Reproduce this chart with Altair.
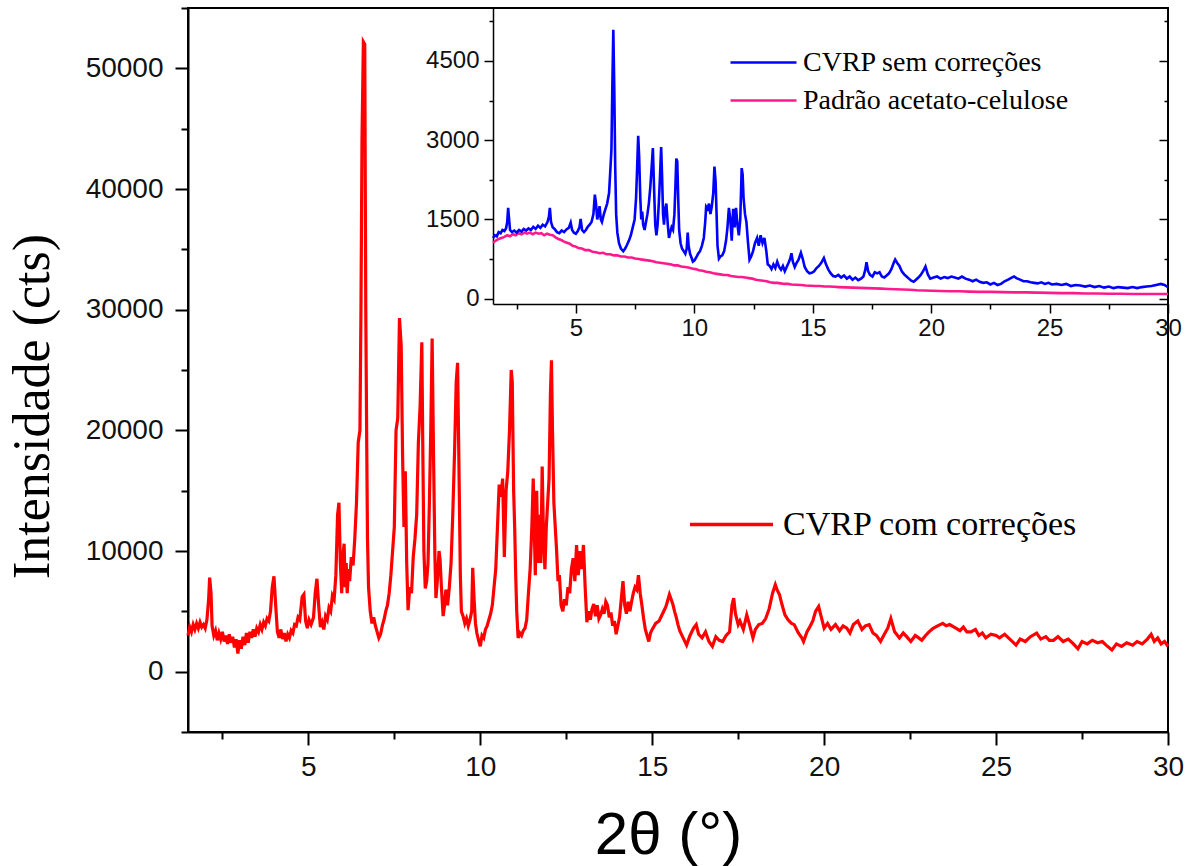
import altair as alt
import pandas as pd

# ---------------- data ----------------
red_x = [1.50,1.55,1.60,1.65,1.70,1.75,1.80,1.85,1.90,1.95,2.00,2.05,2.10,2.13,2.17,2.20,2.25,2.30,2.35,2.40,
         2.45,2.50,2.55,2.60,2.65,2.70,2.75,2.80,2.85,2.90,2.95,3.00,3.05,3.10,3.15,3.20,3.25,3.30,3.35,3.40,
         3.45,3.50,3.55,3.60,3.65,3.70,3.75,3.80,3.85,3.90,3.95,4.00,4.05,4.10,4.15,4.20,4.25,4.30,4.35,4.40,
         4.45,4.50,4.55,4.60,4.65,4.70,4.75,4.82,4.87,4.92,4.97,5.02,5.08,5.15,5.20,5.25,5.30,5.35,5.40,5.45,
         5.50,5.55,5.60,5.65,5.70,5.75,5.80,5.85,5.89,5.93,5.97,6.00,6.04,6.07,6.10,6.13,6.17,6.20,6.25,6.30,
         6.35,6.40,6.45,6.50,6.53,6.56,6.60,6.64,6.67,6.70,6.72,6.75,6.80,6.85,6.90,6.95,7.00,7.05,7.10,7.15,
         7.20,7.25,7.30,7.35,7.40,7.45,7.50,7.55,7.60,7.65,7.70,7.74,7.78,7.82,7.86,7.90,7.95,8.00,8.05,8.10,
         8.15,8.20,8.25,8.30,8.33,8.36,8.40,8.44,8.48,8.52,8.56,8.60,8.64,8.68,8.71,8.75,8.80,8.83,8.87,8.92,
         8.96,9.00,9.05,9.10,9.15,9.20,9.25,9.30,9.34,9.38,9.42,9.45,9.50,9.55,9.60,9.65,9.70,9.75,9.78,9.82,
         9.86,9.90,9.95,10.00,10.05,10.10,10.15,10.20,10.25,10.30,10.35,10.40,10.45,10.50,10.55,10.60,10.65,10.70,10.75,10.80,
         10.85,10.90,10.93,10.97,11.00,11.03,11.06,11.10,11.15,11.20,11.25,11.30,11.35,11.40,11.45,11.50,11.54,11.57,11.60,11.64,
         11.68,11.72,11.76,11.80,11.84,11.88,11.92,11.96,12.00,12.04,12.07,12.10,12.14,12.18,12.22,12.26,12.30,12.35,12.40,12.45,
         12.50,12.55,12.60,12.65,12.70,12.75,12.80,12.85,12.90,12.95,13.00,13.05,13.10,13.15,13.20,13.25,13.30,13.35,13.40,13.45,
         13.50,13.55,13.60,13.65,13.70,13.75,13.80,13.85,13.90,13.95,14.00,14.05,14.10,14.15,14.20,14.25,14.30,14.35,14.40,14.45,
         14.50,14.55,14.60,14.65,14.70,14.75,14.80,14.85,14.90,14.95,15.00,15.10,15.20,15.30,15.40,15.50,15.55,15.60,15.65,15.70,
         15.75,15.80,15.90,16.00,16.10,16.20,16.28,16.35,16.45,16.55,16.65,16.75,16.85,16.95,17.05,17.15,17.25,17.32,17.37,17.42,
         17.50,17.55,17.65,17.75,17.82,17.93,18.00,18.10,18.20,18.30,18.40,18.50,18.58,18.63,18.70,18.78,18.86,18.95,19.05,19.13,
         19.25,19.35,19.40,19.50,19.60,19.67,19.75,19.84,19.92,20.00,20.10,20.20,20.33,20.45,20.55,20.66,20.75,20.85,20.98,21.10,
         21.20,21.31,21.42,21.52,21.64,21.75,21.85,21.94,22.05,22.19,22.30,22.40,22.52,22.65,22.75,22.84,22.95,23.05,23.17,23.30,
         23.45,23.55,23.65,23.83,23.95,24.05,24.15,24.27,24.40,24.50,24.60,24.70,24.85,25.00,25.10,25.25,25.40,25.58,25.70,25.85,
         26.00,26.18,26.30,26.45,26.55,26.67,26.80,26.95,27.10,27.25,27.38,27.50,27.65,27.80,27.95,28.09,28.20,28.37,28.50,28.65,
         28.80,28.97,29.10,29.25,29.40,29.51,29.60,29.70,29.80,29.90,30.00]
red_y = [3000,3700,3300,3900,3500,4000,3600,4100,3700,3900,3600,4300,6000,7800,6500,3800,3000,3400,2600,3200,
         2700,3300,2500,3000,2300,3100,2400,2900,2000,2700,1500,2600,1900,2900,2200,3200,2400,3300,2800,3500,
         2900,3600,3300,3900,3500,4100,3800,4400,4200,5000,7000,7900,5500,3300,2800,3500,2700,3200,2500,3100,
         2800,3400,3200,3900,3800,4500,4300,6200,6400,4200,3600,4300,3900,4500,6500,7700,5500,3700,4100,3500,
         4600,4300,5300,5000,6300,6000,8000,13000,14000,9000,6500,9500,10600,7000,9000,6500,8500,7500,9500,8800,
         11000,14000,19000,20000,30000,44000,52200,52000,30000,18000,11000,7000,5000,4000,4500,3800,3300,2800,3100,3800,
         4300,5000,5500,6500,8000,10000,12000,20000,21000,29300,27000,18000,12000,16600,9000,5100,7000,6500,9500,11000,
         13000,19000,22000,27300,18000,10000,6900,7500,9000,14000,20000,27600,18000,9600,6100,7500,10000,9300,7000,4600,
         5500,6800,5500,7000,9000,13000,18000,24000,25600,17000,8000,5000,4600,4000,4400,3800,4300,5000,8600,6000,
         4000,3200,2600,2100,3000,2800,3500,3800,4300,4800,5500,7000,8500,12000,15500,14500,16000,9500,15000,16600,
         20000,25000,24000,15000,12000,8000,5000,2800,3200,3000,3400,3600,4300,6500,8500,12000,16000,12000,8000,15000,
         9000,13000,9000,17000,11000,8500,12000,14000,16000,23000,25800,20000,14000,12000,10000,7500,8000,5500,5000,6000,
         5500,7000,6500,8500,9400,7500,10500,8000,10000,8500,10500,7000,4100,5000,4300,5200,5600,4600,5500,4400,
         4700,5200,4800,5800,5500,4500,4900,3800,4200,3100,3800,4500,6000,7500,5500,4800,5800,5000,5800,6500,
         7000,6800,8000,6500,5500,4400,3500,3000,2500,3200,3500,4000,4200,4800,5400,6400,6000,5600,5000,4500,
         3900,3400,2800,2200,3000,3600,3900,3100,2800,3300,2500,2100,2900,2600,2500,3000,3300,5500,6100,4800,
         3900,4200,3500,4700,4000,2800,3500,3900,4000,4400,5200,6500,7200,6800,6400,5500,4700,4300,4000,3900,
         3200,2800,2500,3300,3800,4200,5000,5400,4500,3600,4000,3500,3900,3400,3800,3600,3200,3900,4200,3500,
         3800,3900,3200,3000,2500,3100,3600,4400,3300,2800,3200,2900,2500,3000,2800,2600,3000,3300,3600,3800,
         4000,3800,3900,3600,3400,3700,3300,3300,3500,3000,3200,2800,3100,3000,2800,3100,2700,2200,2700,2500,
         2900,3200,2700,2900,2600,2600,2900,2500,2700,2300,1900,2500,2300,2600,2400,2500,2200,1800,2300,2100,
         2400,2200,2500,2300,2700,3100,2500,2800,2300,2500,2100]

blue_x = [1.50,1.58,1.66,1.74,1.82,1.90,1.98,2.05,2.10,2.14,2.18,2.22,2.30,2.40,2.50,2.60,2.70,2.80,2.90,3.00,
          3.10,3.20,3.30,3.40,3.50,3.60,3.70,3.80,3.86,3.90,3.95,4.02,4.10,4.20,4.30,4.40,4.50,4.60,4.70,4.78,
          4.84,4.92,5.00,5.08,5.15,5.20,5.26,5.34,5.42,5.50,5.58,5.66,5.74,5.80,5.85,5.90,5.95,6.00,6.05,6.10,
          6.18,6.25,6.32,6.40,6.45,6.50,6.54,6.58,6.62,6.66,6.70,6.75,6.82,6.90,7.00,7.08,7.16,7.24,7.32,7.40,
          7.48,7.54,7.58,7.63,7.67,7.72,7.76,7.80,7.84,7.90,7.96,8.02,8.08,8.14,8.20,8.25,8.30,8.35,8.40,8.45,
          8.50,8.55,8.60,8.64,8.68,8.72,8.77,8.82,8.88,8.93,8.98,9.04,9.10,9.16,9.20,9.24,9.28,9.32,9.36,9.42,
          9.48,9.55,9.62,9.68,9.72,9.76,9.82,9.88,9.94,10.00,10.08,10.16,10.24,10.32,10.40,10.46,10.50,10.56,10.62,10.68,
          10.74,10.80,10.85,10.90,10.94,10.98,11.04,11.10,11.18,11.26,11.34,11.40,11.46,11.52,11.58,11.64,11.70,11.76,11.82,11.88,
          11.94,12.00,12.04,12.08,12.14,12.20,12.26,12.33,12.40,12.48,12.56,12.65,12.72,12.80,12.88,12.96,13.04,13.10,13.18,13.26,
          13.34,13.42,13.50,13.58,13.66,13.74,13.82,13.90,13.98,14.05,14.10,14.16,14.24,14.32,14.40,14.50,14.58,14.66,14.76,14.86,
          14.96,15.06,15.16,15.26,15.36,15.47,15.56,15.66,15.76,15.86,15.96,16.08,16.20,16.32,16.44,16.56,16.68,16.80,16.92,17.04,
          17.14,17.22,17.27,17.34,17.42,17.52,17.62,17.72,17.82,17.92,18.02,18.12,18.22,18.32,18.42,18.48,18.56,18.66,18.76,18.86,
          18.96,19.06,19.16,19.26,19.36,19.46,19.56,19.66,19.76,19.86,19.96,20.10,20.25,20.40,20.55,20.70,20.85,21.00,21.15,21.30,
          21.45,21.60,21.75,21.90,22.05,22.20,22.35,22.50,22.65,22.80,22.95,23.10,23.25,23.40,23.50,23.60,23.75,23.90,24.05,24.20,
          24.35,24.50,24.65,24.80,24.95,25.10,25.30,25.50,25.70,25.90,26.10,26.30,26.50,26.70,26.90,27.10,27.30,27.50,27.70,27.90,
          28.10,28.30,28.50,28.70,28.90,29.10,29.30,29.50,29.70,29.85,30.00]
blue_y = [1150,1200,1180,1260,1240,1300,1280,1330,1450,1720,1500,1300,1260,1290,1250,1300,1270,1320,1290,1330,
          1300,1360,1320,1380,1340,1400,1370,1450,1550,1720,1450,1350,1320,1260,1240,1290,1260,1310,1340,1440,
          1300,1250,1230,1280,1350,1510,1300,1260,1300,1360,1400,1450,1600,1970,1800,1500,1600,1750,1500,1450,
          1600,1700,1800,2000,2400,2820,4050,5090,4000,2500,1600,1250,1050,950,900,950,1020,1100,1200,1350,
          1500,1900,2400,3080,2700,1900,1500,1650,1400,1300,1450,1600,1800,2100,2500,2850,2100,1400,1200,1400,
          1800,2300,2870,2300,1600,1400,1700,1800,1400,1150,1250,1350,1300,1600,2100,2650,2600,1900,1300,1050,
          950,900,850,950,1250,1000,850,780,700,720,780,850,900,1000,1150,1450,1740,1700,1800,1600,
          1750,2000,2500,2200,1600,1000,760,800,820,900,1100,1350,1720,1500,1100,1700,1350,1720,1400,1200,
          1500,2470,2350,1900,1600,1450,1100,740,800,900,1050,1150,1000,1200,1050,1150,900,650,620,560,
          650,580,700,600,550,620,520,600,680,760,860,700,600,680,740,870,750,600,520,480,
          490,520,580,620,680,770,650,550,480,430,420,450,400,440,380,420,360,400,350,380,
          420,550,690,520,450,420,500,480,500,420,400,440,480,560,680,740,680,620,520,460,
          420,380,340,320,360,400,450,520,610,460,380,400,420,380,410,390,420,400,380,420,
          380,360,330,360,320,300,310,270,300,260,280,330,360,400,420,390,360,330,330,310,
          300,290,310,280,300,270,280,260,280,240,260,250,230,250,220,240,210,230,200,220,
          210,200,220,200,220,230,240,260,280,260,220]

pink_x = [1.50,1.62,1.74,1.86,1.98,2.10,2.22,2.34,2.46,2.58,2.70,2.82,2.94,3.06,3.18,3.30,3.42,3.54,3.66,3.78,
          3.90,4.02,4.14,4.26,4.38,4.50,4.62,4.74,4.86,4.98,5.10,5.25,5.40,5.55,5.70,5.85,6.00,6.15,6.30,6.45,
          6.60,6.75,6.90,7.05,7.20,7.35,7.50,7.65,7.80,7.95,8.10,8.25,8.40,8.55,8.70,8.85,9.00,9.15,9.30,9.45,
          9.60,9.75,9.90,10.05,10.20,10.35,10.50,10.65,10.80,10.95,11.10,11.25,11.40,11.55,11.70,11.85,12.00,12.15,12.30,12.45,
          12.60,12.75,12.90,13.05,13.20,13.35,13.50,13.65,13.80,13.95,14.10,14.30,14.50,14.70,14.90,15.10,15.30,15.50,15.70,15.90,
          16.10,16.40,16.70,17.00,17.30,17.60,17.90,18.20,18.50,18.80,19.10,19.40,19.70,20.00,20.40,20.80,21.20,21.60,22.00,22.50,
          23.00,23.50,24.00,24.50,25.00,25.50,26.00,26.50,27.00,27.50,28.00,28.50,29.00,29.50,30.00]
pink_y = [1060,1100,1130,1150,1170,1200,1180,1220,1200,1240,1220,1250,1230,1250,1220,1250,1230,1240,1200,1230,
          1210,1200,1160,1130,1110,1080,1060,1040,1000,990,960,950,920,920,890,880,860,870,840,840,
          820,820,800,800,780,780,760,750,740,730,720,710,690,680,670,660,650,630,630,610,
          600,590,570,560,540,530,510,500,480,470,460,450,450,430,420,410,410,400,390,380,
          360,350,340,330,310,300,300,290,280,280,270,265,260,250,245,240,240,230,230,225,
          220,215,210,205,200,195,190,185,180,175,170,160,155,150,145,140,140,135,130,130,
          125,120,120,115,110,105,105,100,100,95,95,90,90,90,88]

main_name = "CVRP com correções"
blue_name = "CVRP sem correções"
pink_name = "Padrão acetato-celulose"

main_ticks_x = [5, 10, 15, 20, 25, 30]
main_minor_x = [2.5, 7.5, 12.5, 17.5, 22.5, 27.5]
main_ticks_y = [0, 10000, 20000, 30000, 40000, 50000]
main_minor_y = [-5000, 5000, 15000, 25000, 35000, 45000, 55000]
inset_ticks_y = [0, 1500, 3000, 4500]
inset_minor_y = [750, 2250, 3750, 5250]

# ---------------- tables ----------------
main_df = pd.DataFrame({"x": red_x, "y": red_y, "s": main_name})
blue_df = pd.DataFrame({"x": blue_x, "y": blue_y, "s": blue_name})
pink_df = pd.DataFrame({"x": pink_x, "y": pink_y, "s": pink_name})

W, H = 980, 724
SANS = "Liberation Sans"
SERIF = "Liberation Serif"

mx = alt.Scale(domain=[1.5, 30], nice=False, zero=False)
my = alt.Scale(domain=[-5000, 55000], nice=False, zero=False)
ix = alt.Scale(domain=[1.5, 30], range=[305, 980], nice=False, zero=False)
iy = alt.Scale(domain=[-100, 5500], range=[296, 0], nice=False, zero=False)

base_ax = dict(grid=False, domainColor="black", tickColor="black", labelColor="#111",
               labelFont=SANS, labelOverlap=False, labelFlush=False)


def legend(x, y, size, width, fsize, offset):
    return alt.Legend(title=None, orient="none", legendX=x, legendY=y,
                      symbolType="stroke", symbolSize=size, symbolStrokeWidth=width,
                      labelFont=SERIF, labelFontSize=fsize, labelLimit=700,
                      labelOffset=offset, labelColor="black", padding=0)


# main curve with major axes
red = alt.Chart(main_df).mark_line(strokeWidth=3.2).encode(
    x=alt.X("x:Q", scale=mx, axis=alt.Axis(
        orient="bottom", values=main_ticks_x, tickSize=13, tickWidth=2, domainWidth=2,
        labelFontSize=28, labelPadding=8,
        title="2θ (°)", titleFont=SANS, titleFontSize=60, titleFontWeight="normal", titleColor="black",
        titleX=480, titleY=121, titleAlign="center", titleBaseline="alphabetic", **base_ax)),
    y=alt.Y("y:Q", scale=my, axis=alt.Axis(
        orient="left", values=main_ticks_y, format="d", tickSize=13, tickWidth=2, domainWidth=2,
        labelFontSize=28, labelPadding=12,
        title="Intensidade (cts)", titleFont=SERIF, titleFontSize=52, titleFontWeight="normal",
        titleColor="black", titleX=-140, titleY=398, titleAlign="center", titleBaseline="alphabetic",
        **base_ax)),
    color=alt.Color("s:N", scale=alt.Scale(domain=[main_name], range=["#ff0000"]),
                    legend=legend(500, 473, 6889, 3.5, 34, 8)),
)

# main minor ticks
red_minor = alt.Chart(main_df).mark_line(strokeOpacity=0).encode(
    x=alt.X("x:Q", scale=mx, axis=alt.Axis(orient="bottom", values=main_minor_x, tickSize=7,
                                           tickWidth=2, labels=False, domain=False, title=None, **base_ax)),
    y=alt.Y("y:Q", scale=my, axis=alt.Axis(orient="left", values=main_minor_y, tickSize=7,
                                           tickWidth=2, labels=False, domain=False, title=None, **base_ax)),
)

# inset curves (with inset axes on the blue layer)
blue = alt.Chart(blue_df).mark_line(strokeWidth=2.6).encode(
    x=alt.X("x:Q", scale=ix, axis=alt.Axis(orient="bottom", offset=-428, values=main_ticks_x,
                                           tickSize=9, tickWidth=1.5, domainWidth=1.5,
                                           labelFontSize=24, labelPadding=3, title=None, **base_ax)),
    y=alt.Y("y:Q", scale=iy, axis=alt.Axis(orient="left", offset=-305, values=inset_ticks_y, format="d",
                                           tickSize=9, tickWidth=1.5, domainWidth=1.5,
                                           labelFontSize=24, labelPadding=5, title=None, **base_ax)),
    color=alt.Color("s:N", scale=alt.Scale(domain=[blue_name], range=["#0000ff"]),
                    legend=legend(541, 20, 4356, 2.5, 28, 5)),
)

pink = alt.Chart(pink_df).mark_line(strokeWidth=2.6).encode(
    x=alt.X("x:Q", scale=ix, axis=None),
    y=alt.Y("y:Q", scale=iy, axis=None),
    color=alt.Color("s:N", scale=alt.Scale(domain=[pink_name], range=["#ff1a8c"]),
                    legend=legend(541, 58, 4356, 2.5, 28, 5)),
)

# inset minor ticks
inset_minor = alt.Chart(pink_df).mark_line(strokeOpacity=0).encode(
    x=alt.X("x:Q", scale=ix, axis=alt.Axis(orient="bottom", offset=-428, values=main_minor_x,
                                           tickSize=5, tickWidth=1.5, labels=False, domain=False,
                                           title=None, **base_ax)),
    y=alt.Y("y:Q", scale=iy, axis=alt.Axis(orient="left", offset=-305, values=inset_minor_y,
                                           tickSize=4, tickWidth=1.5, labels=False, domain=False,
                                           title=None, **base_ax)),
)

# inset right-side inward ticks
inset_right = alt.Chart(pink_df).mark_line(strokeOpacity=0).encode(
    x=alt.X("x:Q", scale=ix, axis=None),
    y=alt.Y("y:Q", scale=iy, axis=alt.Axis(orient="left", offset=-980, values=inset_ticks_y,
                                           tickSize=9, tickWidth=1.5, labels=False, domain=False,
                                           title=None, **base_ax)),
)
inset_right_minor = alt.Chart(pink_df).mark_line(strokeOpacity=0).encode(
    x=alt.X("x:Q", scale=ix, axis=None),
    y=alt.Y("y:Q", scale=iy, axis=alt.Axis(orient="left", offset=-980, values=inset_minor_y,
                                           tickSize=4, tickWidth=1.5, labels=False, domain=False,
                                           title=None, **base_ax)),
)

chart = alt.layer(red, red_minor, pink, blue, inset_minor, inset_right, inset_right_minor).resolve_scale(
    x="independent", y="independent", color="independent"
).properties(
    width=W, height=H,
    autosize=alt.AutoSizeParams(type="none"),
    padding={"left": 188, "top": 8, "right": 24, "bottom": 134},
    background="white",
).configure_view(stroke="black", strokeWidth=2)

chart.save("out.html", embed_options={"renderer": "svg", "actions": False})
